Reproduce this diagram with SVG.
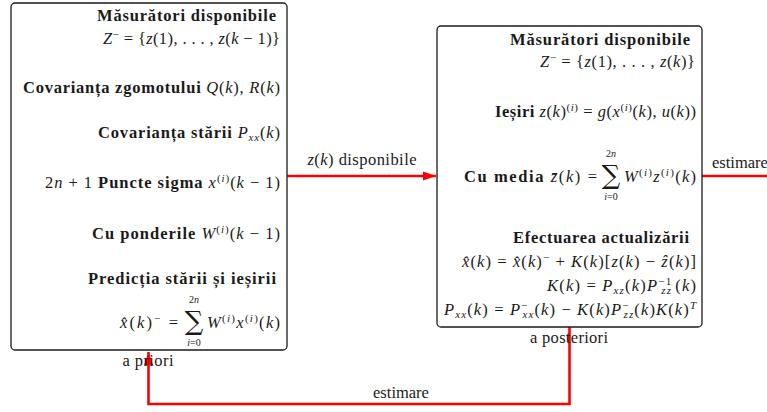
<svg xmlns="http://www.w3.org/2000/svg" width="767" height="412" viewBox="0 0 767 412">
<style>
text{font-family:"Liberation Serif","Times New Roman",serif;font-size:16.5px;fill:#1a1a1a}
.b{font-weight:bold}
.i{font-style:italic}
.s{font-size:11px}
.sm{font-size:10px}
.sig{font-family:"DejaVu Serif",serif;font-size:26px}
.box{fill:#fff;stroke:#1a1a1a;stroke-width:1.3}
.edge{fill:none;stroke:#ff0000;stroke-width:2.6}
</style>
<defs>
<marker id="ah" markerUnits="userSpaceOnUse" markerWidth="14" markerHeight="12" viewBox="0 0 14 12" refX="13" refY="6" orient="auto">
<path d="M0,1.5 L13,6 L0,10.5 Z" fill="#ff0000"/>
</marker>
</defs>
<g id="connectors">
<path class="edge" d="M287,176 L436,176" marker-end="url(#ah)"/>
<path class="edge" d="M702,176 L767,176"/>
<path class="edge" d="M569.5,327 L569.5,404 L148.5,404 L148.5,352" marker-end="url(#ah)"/>
<text x="362" y="165" text-anchor="middle" textLength="109"><tspan class="i">z</tspan>(<tspan class="i">k</tspan>) disponibile</text>
<text x="712" y="168">estimare</text>
<text x="401" y="398" text-anchor="middle">estimare</text>
</g>
<g id="node-apriori">
<rect class="box" x="11" y="3" width="276" height="347" rx="4"/>
<text x="276" y="21" text-anchor="end" class="b" textLength="179">Măsurători disponibile</text>
<text x="280" y="44" text-anchor="end" textLength="177"><tspan class="i">Z</tspan><tspan class="s" dy="-6">−</tspan><tspan dy="6"> = {</tspan><tspan class="i">z</tspan>(1), . . . , <tspan class="i">z</tspan>(<tspan class="i">k</tspan> − 1)}</text>
<text x="280" y="93" text-anchor="end" textLength="257"><tspan class="b">Covarianța zgomotului </tspan><tspan class="i">Q</tspan>(<tspan class="i">k</tspan>), <tspan class="i">R</tspan>(<tspan class="i">k</tspan>)</text>
<text x="280" y="138" text-anchor="end" textLength="182"><tspan class="b">Covarianța stării </tspan><tspan class="i">P</tspan><tspan class="s i" dy="3">xx</tspan><tspan dy="-3">(</tspan><tspan class="i">k</tspan>)</text>
<text x="280" y="188" text-anchor="end" textLength="235">2<tspan class="i">n</tspan> + 1 <tspan class="b">Puncte sigma </tspan><tspan class="i">x</tspan><tspan class="s" dy="-6">(<tspan class="i">i</tspan>)</tspan><tspan dy="6">(</tspan><tspan class="i">k</tspan> − 1)</text>
<text x="280" y="239" text-anchor="end" textLength="188"><tspan class="b">Cu ponderile </tspan><tspan class="i">W</tspan><tspan class="s" dy="-6">(<tspan class="i">i</tspan>)</tspan><tspan dy="6">(</tspan><tspan class="i">k</tspan> − 1)</text>
<text x="276" y="284" text-anchor="end" class="b" textLength="188">Predicția stării și ieșirii</text>
<text x="178" y="328" text-anchor="end" textLength="58"><tspan class="i">x̂</tspan>(<tspan class="i">k</tspan>)<tspan class="s" dy="-6">−</tspan><tspan dy="6"> =</tspan></text>
<text x="194" y="330" text-anchor="middle" class="sig">∑</text>
<text x="194" y="303" text-anchor="middle" class="sm">2<tspan class="i">n</tspan></text>
<text x="194" y="346" text-anchor="middle" class="sm"><tspan class="i">i</tspan>=0</text>
<text x="280" y="328" text-anchor="end" textLength="73"><tspan class="i">W</tspan><tspan class="s" dy="-6">(<tspan class="i">i</tspan>)</tspan><tspan class="i" dy="6">x</tspan><tspan class="s" dy="-6">(<tspan class="i">i</tspan>)</tspan><tspan dy="6">(</tspan><tspan class="i">k</tspan>)</text>
<text x="148" y="366" text-anchor="middle" textLength="51">a priori</text>
</g>
<g id="node-aposteriori">
<rect class="box" x="437" y="26" width="265" height="301" rx="4"/>
<text x="690" y="45" text-anchor="end" class="b" textLength="180">Măsurători disponibile</text>
<text x="695" y="67" text-anchor="end" textLength="155"><tspan class="i">Z</tspan><tspan class="s" dy="-6">−</tspan><tspan dy="6"> = {</tspan><tspan class="i">z</tspan>(1), . . . , <tspan class="i">z</tspan>(<tspan class="i">k</tspan>)}</text>
<text x="696" y="117" text-anchor="end" textLength="201"><tspan class="b">Ieșiri </tspan><tspan class="i">z</tspan>(<tspan class="i">k</tspan>)<tspan class="s" dy="-6">(<tspan class="i">i</tspan>)</tspan><tspan dy="6"> = </tspan><tspan class="i">g</tspan>(<tspan class="i">x</tspan><tspan class="s" dy="-6">(<tspan class="i">i</tspan>)</tspan><tspan dy="6">(</tspan><tspan class="i">k</tspan>), <tspan class="i">u</tspan>(<tspan class="i">k</tspan>))</text>
<text x="597" y="182" text-anchor="end" textLength="133"><tspan class="b">Cu media </tspan><tspan class="i">z̄</tspan>(<tspan class="i">k</tspan>) =</text>
<text x="611" y="184" text-anchor="middle" class="sig">∑</text>
<text x="611" y="157" text-anchor="middle" class="sm">2<tspan class="i">n</tspan></text>
<text x="611" y="200" text-anchor="middle" class="sm"><tspan class="i">i</tspan>=0</text>
<text x="696" y="182" text-anchor="end" textLength="72"><tspan class="i">W</tspan><tspan class="s" dy="-6">(<tspan class="i">i</tspan>)</tspan><tspan class="i" dy="6">z</tspan><tspan class="s" dy="-6">(<tspan class="i">i</tspan>)</tspan><tspan dy="6">(</tspan><tspan class="i">k</tspan>)</text>
<text x="689" y="243" text-anchor="end" class="b" textLength="176">Efectuarea actualizării</text>
<text x="696" y="267" text-anchor="end" textLength="234"><tspan class="i">x̂</tspan>(<tspan class="i">k</tspan>) = <tspan class="i">x̂</tspan>(<tspan class="i">k</tspan>)<tspan class="s" dy="-6">−</tspan><tspan dy="6"> + </tspan><tspan class="i">K</tspan>(<tspan class="i">k</tspan>)[<tspan class="i">z</tspan>(<tspan class="i">k</tspan>) − <tspan class="i">ẑ</tspan>(<tspan class="i">k</tspan>)]</text>
<text x="696" y="291" text-anchor="end" textLength="149"><tspan class="i">K</tspan>(<tspan class="i">k</tspan>) = <tspan class="i">P</tspan><tspan class="s i" dy="3">xz</tspan><tspan dy="-3">(</tspan><tspan class="i">k</tspan>)<tspan class="i">P</tspan><tspan class="s" dy="-6">−1</tspan><tspan class="s i" dx="-11" dy="9">zz</tspan><tspan dx="3" dy="-3">(</tspan><tspan class="i">k</tspan>)</text>
<text x="696" y="315" text-anchor="end" textLength="252"><tspan class="i">P</tspan><tspan class="s i" dy="3">xx</tspan><tspan dy="-3">(</tspan><tspan class="i">k</tspan>) = <tspan class="i">P</tspan><tspan class="s" dy="-6">−</tspan><tspan class="s i" dx="-6" dy="9">xx</tspan><tspan dy="-3">(</tspan><tspan class="i">k</tspan>) − <tspan class="i">K</tspan>(<tspan class="i">k</tspan>)<tspan class="i">P</tspan><tspan class="s" dy="-6">−</tspan><tspan class="s i" dx="-6" dy="9">zz</tspan><tspan dy="-3">(</tspan><tspan class="i">k</tspan>)<tspan class="i">K</tspan>(<tspan class="i">k</tspan>)<tspan class="s i" dy="-6">T</tspan></text>
<text x="569" y="343" text-anchor="middle" textLength="78">a posteriori</text>
</g>
</svg>
